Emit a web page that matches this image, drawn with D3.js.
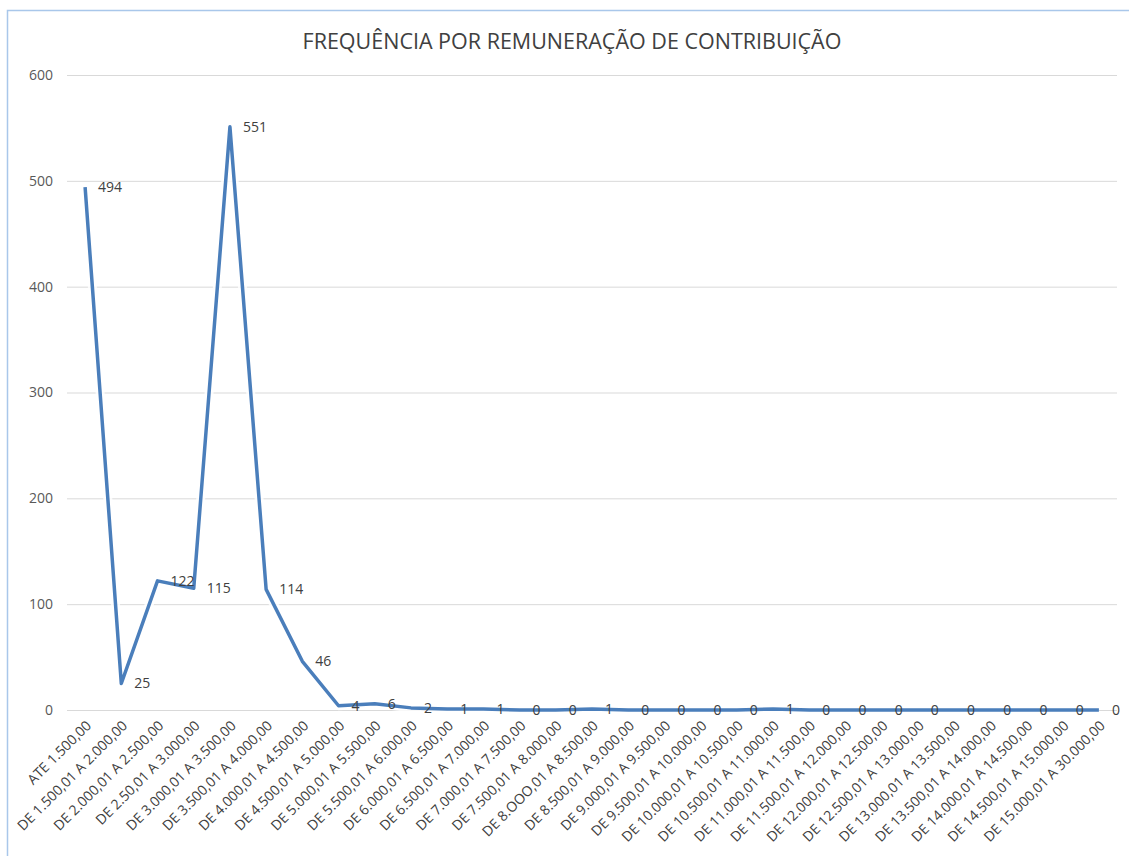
<!DOCTYPE html>
<html>
<head>
<meta charset="utf-8">
<script src="https://cdn.jsdelivr.net/npm/d3@7"></script>
<style>
  body { margin: 0; background: #fff; }
  text { font-family: "Open Sans", "Noto Sans", sans-serif; }
</style>
</head>
<body>
<div class="lineChart"></div>
<script>
var width = 1129,
    height = 856;

// faixas de remuneração (eixo x)
var categories = [
  "ATE 1.500,00", "DE 1.500,01 A 2.000,00", "DE 2.000,01 A 2.500,00", "DE 2.50,01 A 3.000,00",
  "DE 3.000,01 A 3.500,00", "DE 3.500,01 A 4.000,00", "DE 4.000,01 A 4.500,00", "DE 4.500,01 A 5.000,00",
  "DE 5.000,01 A 5.500,00", "DE 5.500,01 A 6.000,00", "DE 6.000,01 A 6.500,00", "DE 6.500,01 A 7.000,00",
  "DE 7.000,01 A 7.500,00", "DE 7.500,01 A 8.000,00", "DE 8.OOO,01 A 8.500,00", "DE 8.500,01 A 9.000,00",
  "DE 9.000,01 A 9.500,00", "DE 9.500,01 A 10.000,00", "DE 10.000,01 A 10.500,00", "DE 10.500,01 A 11.000,00",
  "DE 11.000,01 A 11.500,00", "DE 11.500,01 A 12.000,00", "DE 12.000,01 A 12.500,00", "DE 12.500,01 A 13.000,00",
  "DE 13.000,01 A 13.500,00", "DE 13.500,01 A 14.000,00", "DE 14.000,01 A 14.500,00", "DE 14.500,01 A 15.000,00",
  "DE 15.000,01 A 30.000,00"
];

// frequência por faixa
var frequencia = [494, 25, 122, 115, 551, 114, 46, 4, 6, 2, 1, 1, 0, 0, 1, 0, 0, 0, 0, 1, 0, 0, 0, 0, 0, 0, 0, 0, 0];

var yTicks = [0, 100, 200, 300, 400, 500, 600];

var lineColor = "#4a7ebb";
var textColor = "#404040";

var x = d3.scalePoint()
  .domain(categories)
  .range([67, 1117])
  .padding(0.5);

var y = d3.scaleLinear()
  .domain([0, 600])
  .range([710, 75]);

var svg = d3.select(".lineChart")
  .append("svg")
  .attr("width", width)
  .attr("height", height);

// moldura do gráfico
svg.append("path")
  .attr("d", "M7.5," + height + "V10.5H" + width)
  .attr("fill", "none")
  .attr("stroke", "#a9c7ea")
  .attr("stroke-width", 1.5);

// título
svg.append("text")
  .attr("x", 572)
  .attr("y", 49)
  .attr("text-anchor", "middle")
  .attr("fill", textColor)
  .attr("font-size", "21.5px")
  .text("FREQUÊNCIA POR REMUNERAÇÃO DE CONTRIBUIÇÃO");

// linhas de grade + rótulos do eixo y
var yAxis = d3.axisLeft(y)
  .tickValues(yTicks)
  .tickSize(-(1117 - 67))
  .tickPadding(14);

var gy = svg.append("g")
  .attr("transform", "translate(67,0)")
  .call(yAxis);

gy.select(".domain").remove();
gy.selectAll(".tick line")
  .attr("stroke", "#d9d9d9")
  .attr("stroke-width", 1);
gy.selectAll(".tick text")
  .attr("fill", "#595959")
  .attr("font-size", "14px")
  .attr("font-family", "'Open Sans', sans-serif");

// rótulos do eixo x (rotacionados)
var xAxis = d3.axisBottom(x).tickSize(0).tickPadding(0);

var gx = svg.append("g")
  .attr("transform", "translate(0,710)")
  .call(xAxis);

gx.select(".domain").remove();
gx.selectAll(".tick text")
  .attr("fill", textColor)
  .attr("font-size", "14px")
  .attr("font-family", "'Open Sans', sans-serif")
  .attr("text-anchor", "end")
  .attr("dy", "0.35em")
  .attr("transform", "translate(3,13) rotate(-45)");

// linha
var line = d3.line()
  .x(function(d, i) { return x(categories[i]); })
  .y(function(d) { return y(d); });

svg.append("path")
  .datum(frequencia)
  .attr("fill", "none")
  .attr("stroke", "#ffffff")
  .attr("stroke-width", 9)
  .attr("stroke-linejoin", "round")
  .attr("opacity", 0.8)
  .attr("d", line);

svg.append("path")
  .datum(frequencia)
  .attr("fill", "none")
  .attr("stroke", lineColor)
  .attr("stroke-width", 3.5)
  .attr("stroke-linejoin", "round")
  .attr("d", line);

// rótulos de dados
svg.selectAll(".label")
  .data(frequencia)
  .enter()
  .append("text")
  .attr("class", "label")
  .attr("x", function(d, i) { return x(categories[i]) + 13; })
  .attr("y", function(d) { return y(d); })
  .attr("dy", "0.35em")
  .attr("fill", textColor)
  .attr("font-size", "14px")
  .text(function(d) { return d; });
</script>
</body>
</html>
